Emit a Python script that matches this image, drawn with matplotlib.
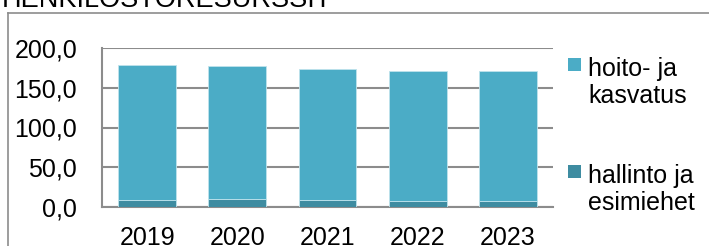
import matplotlib
matplotlib.use("Agg")
import matplotlib.pyplot as plt
from matplotlib.patches import Rectangle
from matplotlib.lines import Line2D

plt.rcParams['font.family'] = ['Liberation Sans', 'DejaVu Sans']

# data
vuodet = ['2019', '2020', '2021', '2022', '2023']
hallinto = [9.0, 9.8, 8.2, 8.0, 8.0]
hoito = [169.6, 167.0, 165.4, 163.0, 163.0]
yticks = [0, 50, 100, 150, 200]
ylabels = ['0,0', '50,0', '100,0', '150,0', '200,0']

c_hoito = '#4BACC6'
c_hallinto = '#3E8CA1'
grey = '#8C8C8C'
fs = 18

fig = plt.figure(figsize=(7.09, 2.46), dpi=100)
ax = fig.add_axes([102/709, 1 - 207/246, 451/709, 159/246])

x = range(len(vuodet))
ax.bar(x, hallinto, width=0.64, color=c_hallinto, edgecolor='#BFE3EC', linewidth=0.6, zorder=3)
ax.bar(x, hoito, bottom=hallinto, width=0.64, color=c_hoito, edgecolor='#BFE3EC', linewidth=0.6, zorder=3)

ax.set_xlim(-0.5, len(vuodet) - 0.5)
ax.set_ylim(0, 200)
ax.set_yticks(yticks)
ax.set_yticklabels(ylabels)
ax.set_xticks(list(x))
ax.set_xticklabels(vuodet)
ax.tick_params(axis='both', length=0, labelsize=fs)
ax.tick_params(axis='y', pad=18)
ax.tick_params(axis='x', pad=14)
ax.yaxis.grid(True, color=grey, linewidth=1.5, zorder=0)
ax.set_axisbelow(True)
for s in ['top', 'right']:
    ax.spines[s].set_visible(False)
for s in ['left', 'bottom']:
    ax.spines[s].set_color(grey)
    ax.spines[s].set_linewidth(1.5)

# outer chart frame (cropped)
fig.add_artist(Line2D([8/709, 8/709], [0, 1 - 13/246], color=grey, linewidth=1.2))
fig.add_artist(Line2D([8/709, 1], [1 - 13/246, 1 - 13/246], color=grey, linewidth=1.2))

# title, mostly cut off at the top
fig.text(2/709, 1 - 7/246, 'HENKILÖSTÖRESURSSIT', fontsize=19.5, va='baseline', ha='left')

# legend drawn by hand: (label, colour, top of square, baseline of last line)
selitteet = [('hoito- ja\nkasvatus', c_hoito, 58, 103),
             ('hallinto ja\nesimiehet', c_hallinto, 165, 210)]
for teksti, vari, ylä, base in selitteet:
    fig.add_artist(Rectangle((568/709, 1 - (ylä + 13)/246), 13/709, 13/246,
                             facecolor=vari, edgecolor='none', transform=fig.transFigure))
    fig.text(588/709, 1 - base/246, teksti, fontsize=fs, va='baseline', ha='left',
             linespacing=1.18)

fig.savefig('out.png', dpi=100)
